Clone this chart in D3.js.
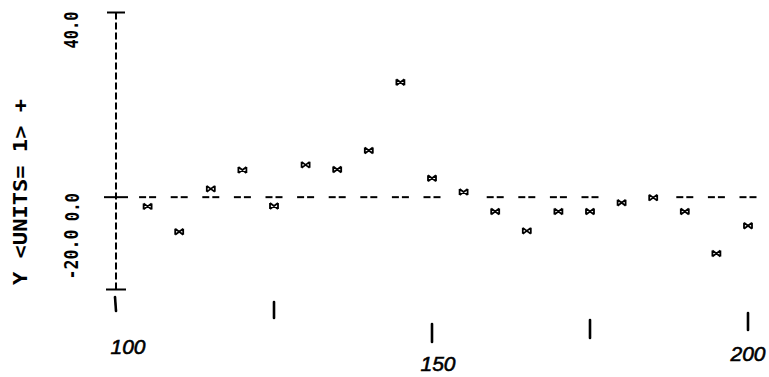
<!DOCTYPE html>
<html>
<head>
<meta charset="utf-8">
<script src="https://cdn.jsdelivr.net/npm/d3@7"></script>
<style>
  body { margin: 0; background: #fff; }
  svg { display: block; }
</style>
</head>
<body>
<div id="chart"></div>
<script>
var xValues = [105, 110, 115, 120, 125, 130, 135, 140, 145, 150,
               155, 160, 165, 170, 175, 180, 185, 190, 195, 200];
var yValues = [-2.0, -7.5, 1.8, 5.9, -1.9, 7.0, 6.0, 10.1, 24.9, 4.1,
               1.1, -3.1, -7.3, -3.1, -3.1, -1.2, -0.1, -3.1, -12.2, -6.2];

var yTicks = [40, 0, -20];
var yTickLabels = ["40.0", "0.0", "-20.0"];
var yTitle = "Y <UNITS= 1> +";

var xTicks = [100, 125, 150, 175, 200];
var xTickLabels = ["100", "", "150", "", "200"];

// the x axis was written by hand, so every tick sits a bit differently
var handTicks = [
  {top: 297, bottom: 311, lean: -1, ly: 354, lx: 12},
  {top: 302, bottom: 318, lean: 0, ly: 0, lx: 0},
  {top: 324, bottom: 342, lean: 0, ly: 371, lx: 6},
  {top: 320, bottom: 338, lean: 0, ly: 0, lx: 0},
  {top: 313, bottom: 330, lean: 0, ly: 361, lx: 0}
];

var width = 769,
    height = 377;

var svg = d3.select("#chart").append("svg")
    .attr("width", width)
    .attr("height", height);

svg.append("rect")
    .attr("width", width)
    .attr("height", height)
    .attr("fill", "white");

var x = d3.scaleLinear().domain([100, 200]).range([116, 748]);
var y = d3.scaleLinear().domain([-20, 40]).range([289.5, 12.5]);

var printFont = "'DejaVu Sans Mono', monospace";

draw_y_axis();
draw_zero_line();
draw_points();
draw_x_axis();

function draw_y_axis() {
  var x0 = x(100);

  svg.append("line")
      .attr("x1", x0).attr("x2", x0)
      .attr("y1", y(40)).attr("y2", y(-20))
      .attr("stroke", "black")
      .attr("stroke-width", 2)
      .attr("stroke-dasharray", "7,3");

  // caps and the cross at zero
  var caps = [{v: 40, w: 9}, {v: 0, w: 12}, {v: -20, w: 10}];
  svg.selectAll("line.cap").data(caps).enter().append("line")
      .attr("class", "cap")
      .attr("x1", function(d) { return x0 - d.w; })
      .attr("x2", function(d) { return x0 + d.w; })
      .attr("y1", function(d) { return y(d.v); })
      .attr("y2", function(d) { return y(d.v); })
      .attr("stroke", "black")
      .attr("stroke-width", 2);

  // tick labels, rotated like the printer wrote them
  var labelPos = [
    {tx: 78, anchor: "end", shift: -1, len: 37},
    {tx: 79, anchor: "middle", shift: 10, len: 28},
    {tx: 78, anchor: "start", shift: -10, len: 50}
  ];
  yTicks.forEach(function(v, i) {
    var p = labelPos[i];
    var ty = y(v) + p.shift;
    svg.append("text")
        .attr("transform", "translate(" + p.tx + "," + ty + ") rotate(-90)")
        .attr("text-anchor", p.anchor)
        .attr("font-family", printFont)
        .attr("font-weight", "bold")
        .attr("font-size", "19px")
        .attr("textLength", p.len)
        .attr("lengthAdjust", "spacingAndGlyphs")
        .attr("fill", "black")
        .text(yTickLabels[i]);
  });

  svg.append("text")
      .attr("transform", "translate(27,285) rotate(-90)")
      .attr("text-anchor", "start")
      .attr("font-family", printFont)
      .attr("font-weight", "bold")
      .attr("font-size", "19px")
      .attr("textLength", 186)
      .attr("lengthAdjust", "spacingAndGlyphs")
      .attr("fill", "black")
      .text(yTitle);
}

function draw_zero_line() {
  var y0 = y(0);
  // one "- -" group per print column, dropped where a point overprints it
  var cols = xValues.filter(function(v, i) {
    return Math.abs(y(yValues[i]) - y0) > 7;
  });

  var g = svg.append("g");
  cols.forEach(function(v) {
    var cx = x(v);
    [-1, 1].forEach(function(s) {
      g.append("line")
          .attr("x1", cx + s * 1.5)
          .attr("x2", cx + s * 8.5)
          .attr("y1", y0).attr("y2", y0)
          .attr("stroke", "black")
          .attr("stroke-width", 2);
    });
  });
}

function draw_points() {
  var mark = "M-4,-3V3M4,-3V3M-4,-3L4,3M-4,3L4,-3";

  svg.selectAll("path.pt").data(xValues).enter().append("path")
      .attr("class", "pt")
      .attr("d", mark)
      .attr("transform", function(d, i) {
        return "translate(" + x(d) + "," + y(yValues[i]) + ")";
      })
      .attr("fill", "none")
      .attr("stroke", "black")
      .attr("stroke-width", 1.8);
}

function draw_x_axis() {
  xTicks.forEach(function(v, i) {
    var h = handTicks[i];
    var tx = x(v);
    svg.append("line")
        .attr("x1", tx + h.lean).attr("x2", tx)
        .attr("y1", h.top).attr("y2", h.bottom)
        .attr("stroke", "black")
        .attr("stroke-width", 2.6)
        .attr("stroke-linecap", "round");

    if (xTickLabels[i] !== "") {
      svg.append("text")
          .attr("x", tx + h.lx)
          .attr("y", h.ly)
          .attr("text-anchor", "middle")
          .attr("font-family", "'Liberation Sans', sans-serif")
          .attr("font-style", "italic")
          .attr("font-size", "21px")
          .attr("stroke", "black")
          .attr("stroke-width", 0.6)
          .attr("fill", "black")
          .text(xTickLabels[i]);
    }
  });
}
</script>
</body>
</html>
